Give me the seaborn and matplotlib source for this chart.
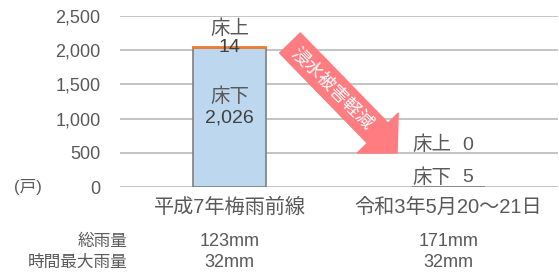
import numpy as np
import pandas as pd
import matplotlib
matplotlib.use("Agg")
import matplotlib.pyplot as plt
import seaborn as sns

# data
categories = ["平成7年梅雨前線", "令和3年5月20～21日"]
below_floor = [2026, 5]     # 床下
above_floor = [14, 0]       # 床上
total_rain = ["123mm", "171mm"]
max_hourly = ["32mm", "32mm"]
yticks = [0, 500, 1000, 1500, 2000, 2500]

sns.set_style("white")
plt.rcParams["font.family"] = ["Liberation Sans", "Noto Sans CJK JP", "DejaVu Sans"]

txt = "#595959"
blue = "#BDD7EE"
orange = "#ED7D31"
edge = "#7F7F7F"
pink = "#FF7C80"

df = pd.DataFrame({"cat": categories, "below": below_floor, "above": above_floor})

fig = plt.figure(figsize=(5.59, 2.73), dpi=100)
ax = fig.add_axes([120 / 559, 1 - 187 / 273, 438 / 559, 171 / 273])

# lower part (床下)
sns.barplot(data=df, x="cat", y="below", color=blue, saturation=1, width=0.336,
            edgecolor=edge, linewidth=1.2, ax=ax)
# upper part (床上) stacked on top, no outline on empty segments
ax.bar(range(len(categories)), df["above"], bottom=df["below"], width=0.336,
       color=orange, edgecolor=orange,
       linewidth=[1.3 if v > 0 else 0 for v in above_floor], zorder=3)

ax.set_xlim(-0.5, 1.5)
ax.set_ylim(0, 2500)
ax.set_yticks(yticks)
ax.set_yticklabels([f"{v:,}" for v in yticks])
ax.set_xticks(range(len(categories)))
ax.set_xticklabels(categories)
ax.yaxis.grid(True, color="#BFBFBF", linewidth=1.3)
ax.set_axisbelow(True)
for s in ax.spines.values():
    s.set_visible(False)
ax.tick_params(axis="y", length=0, pad=14, labelsize=13, labelcolor=txt)
ax.tick_params(axis="x", length=0, pad=8, labelsize=14.5, labelcolor=txt)
ax.set_xlabel("")
ax.set_ylabel("")

ax.text(-0.21, 0, "(戸)", transform=ax.transAxes, ha="center", va="center",
        fontsize=12, color=txt)

# value labels
tot0 = below_floor[0] + above_floor[0]
ax.text(0, tot0 + 270, "床上", ha="center", va="center", fontsize=14, color=txt, zorder=4)
ax.text(0, tot0 + 5, f"{above_floor[0]}", ha="center", va="center", fontsize=14,
        color="#404040", zorder=4)
ax.text(0, 1316, "床下", ha="center", va="center", fontsize=14, color=txt)
ax.text(0, 1009, f"{below_floor[0]:,}", ha="center", va="center", fontsize=14, color="#404040")
ax.text(0.833, 614, "床上", ha="left", va="center", fontsize=14, color=txt)
ax.text(1.062, 614, f"{above_floor[1]}", ha="left", va="center", fontsize=14, color=txt)
ax.text(0.833, 132, "床下", ha="left", va="center", fontsize=14, color=txt)
ax.text(1.062, 132, f"{below_floor[1]}", ha="left", va="center", fontsize=14, color=txt)

# arrow
ax.annotate("", xy=(0.765, 497), xytext=(0.276, 2105),
            arrowprops=dict(arrowstyle="simple,head_length=0.5,head_width=1.03,tail_width=0.52",
                            color=pink, shrinkA=0, shrinkB=0, mutation_scale=40))
ax.text(0.470, 1440, "浸水被害軽減", rotation=-45, rotation_mode="anchor",
        ha="center", va="center", fontsize=13, color="white")

# rainfall rows under the chart
ax.text(0.018, -0.316, "総雨量", transform=ax.transAxes, ha="right", va="center",
        fontsize=12, color=txt)
ax.text(0.018, -0.439, "時間最大雨量", transform=ax.transAxes, ha="right", va="center",
        fontsize=12, color=txt)
for i, (tr, mh) in enumerate(zip(total_rain, max_hourly)):
    xi = (i + 0.5) / 2
    ax.text(xi, -0.316, tr, transform=ax.transAxes, ha="center", va="center",
            fontsize=13, color=txt)
    ax.text(xi, -0.439, mh, transform=ax.transAxes, ha="center", va="center",
            fontsize=13, color=txt)

fig.savefig("out.png", dpi=100)
